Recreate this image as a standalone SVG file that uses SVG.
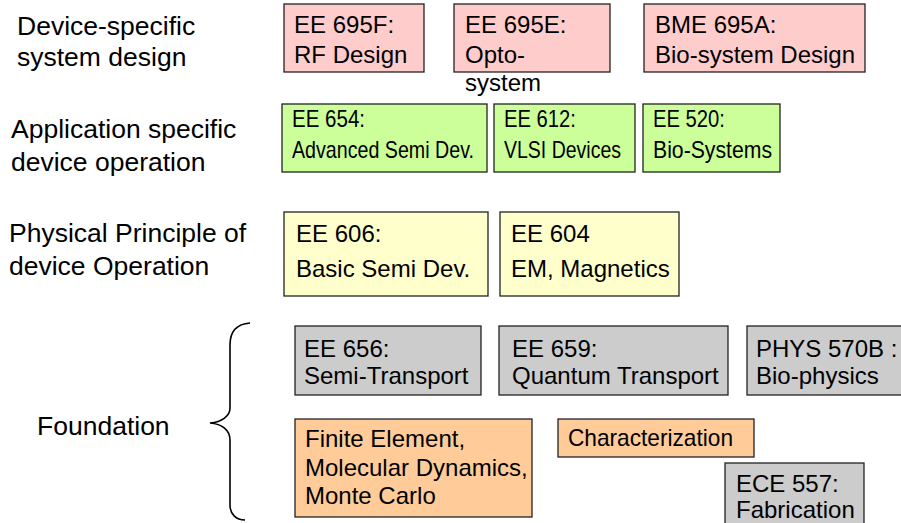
<svg xmlns="http://www.w3.org/2000/svg" width="901" height="523" viewBox="0 0 901 523">
  <style>
    text { font-family: "Liberation Sans", Arial, sans-serif; fill: #000; }
    .lbl { font-size: 26.5px; }
    .t { font-size: 24px; }
    .box { stroke: #222; stroke-width: 1.3; }
    .pink { fill: #FFCCCC; }
    .green { fill: #CCFF99; }
    .yellow { fill: #FFFFCC; }
    .gray { fill: #CCCCCC; }
    .orange { fill: #FFCC99; }
    .brace { fill: none; stroke: #000; stroke-width: 1.6; }
  </style>

  <!-- level labels -->
  <g id="row-labels">
    <text class="lbl" x="17" y="35">Device-specific</text>
    <text class="lbl" x="17" y="66">system design</text>
    <text class="lbl" x="11" y="138">Application specific</text>
    <text class="lbl" x="11" y="171">device operation</text>
    <text class="lbl" x="9" y="242">Physical Principle of</text>
    <text class="lbl" x="9" y="275">device Operation</text>
    <text class="lbl" x="37" y="435">Foundation</text>
  </g>

  <!-- device-specific system design -->
  <g id="ee695f">
    <rect class="box pink" x="284" y="4" width="140" height="68"/>
    <text class="t" x="294" y="33">EE 695F:</text>
    <text class="t" x="294" y="63">RF Design</text>
  </g>
  <g id="ee695e">
    <rect class="box pink" x="454" y="4" width="156" height="68"/>
    <text class="t" x="465" y="33">EE 695E:</text>
    <text class="t" x="465" y="63">Opto-</text>
    <text class="t" x="465" y="91">system</text>
  </g>
  <g id="bme695a">
    <rect class="box pink" x="644" y="4" width="221" height="68"/>
    <text class="t" x="655" y="33">BME 695A:</text>
    <text class="t" x="655" y="63">Bio-system Design</text>
  </g>

  <!-- application specific device operation -->
  <g id="ee654">
    <rect class="box green" x="282" y="104" width="205" height="68"/>
    <text class="t" x="292" y="127" textLength="73" lengthAdjust="spacingAndGlyphs">EE 654:</text>
    <text class="t" x="292" y="158" textLength="182" lengthAdjust="spacingAndGlyphs">Advanced Semi Dev.</text>
  </g>
  <g id="ee612">
    <rect class="box green" x="494" y="104" width="141" height="68"/>
    <text class="t" x="504" y="127" textLength="72" lengthAdjust="spacingAndGlyphs">EE 612:</text>
    <text class="t" x="504" y="158" textLength="117" lengthAdjust="spacingAndGlyphs">VLSI Devices</text>
  </g>
  <g id="ee520">
    <rect class="box green" x="643" y="104" width="137" height="68"/>
    <text class="t" x="653" y="127" textLength="72" lengthAdjust="spacingAndGlyphs">EE 520:</text>
    <text class="t" x="653" y="158" textLength="119" lengthAdjust="spacingAndGlyphs">Bio-Systems</text>
  </g>

  <!-- physical principle of device operation -->
  <g id="ee606">
    <rect class="box yellow" x="284" y="212" width="204" height="84"/>
    <text class="t" x="296" y="242">EE 606:</text>
    <text class="t" x="296" y="277">Basic Semi Dev.</text>
  </g>
  <g id="ee604">
    <rect class="box yellow" x="500" y="212" width="179" height="84"/>
    <text class="t" x="511" y="242">EE 604</text>
    <text class="t" x="511" y="277">EM, Magnetics</text>
  </g>

  <!-- foundation -->
  <g id="ee656">
    <rect class="box gray" x="295" y="326" width="186" height="69"/>
    <text class="t" x="304" y="357">EE 656:</text>
    <text class="t" x="304" y="384">Semi-Transport</text>
  </g>
  <g id="ee659">
    <rect class="box gray" x="499" y="326" width="229" height="69"/>
    <text class="t" x="512" y="357">EE 659:</text>
    <text class="t" x="512" y="384">Quantum Transport</text>
  </g>
  <g id="phys570b">
    <rect class="box gray" x="747" y="326" width="160" height="69"/>
    <text class="t" x="756" y="357">PHYS 570B :</text>
    <text class="t" x="756" y="384">Bio-physics</text>
  </g>
  <g id="numerics">
    <rect class="box orange" x="295" y="419" width="237" height="98"/>
    <text class="t" x="305" y="447">Finite Element,</text>
    <text class="t" x="305" y="476">Molecular Dynamics,</text>
    <text class="t" x="305" y="504">Monte Carlo</text>
  </g>
  <g id="characterization">
    <rect class="box orange" x="558" y="419" width="196" height="38"/>
    <text class="t" x="568" y="446" textLength="165" lengthAdjust="spacingAndGlyphs">Characterization</text>
  </g>
  <g id="ece557">
    <rect class="box gray" x="725" y="463" width="139" height="70"/>
    <text class="t" x="736" y="492">ECE 557:</text>
    <text class="t" x="736" y="518">Fabrication</text>
  </g>

  <!-- grouping brace for the foundation courses -->
  <g id="connectors">
    <path class="brace" d="M250,323 C236,324 230,332 230,345 L230,408 C230,416 222,422 210,423 C222,424 230,430 230,440 L230,505 C230,514 236,520 245,520"/>
  </g>
</svg>
